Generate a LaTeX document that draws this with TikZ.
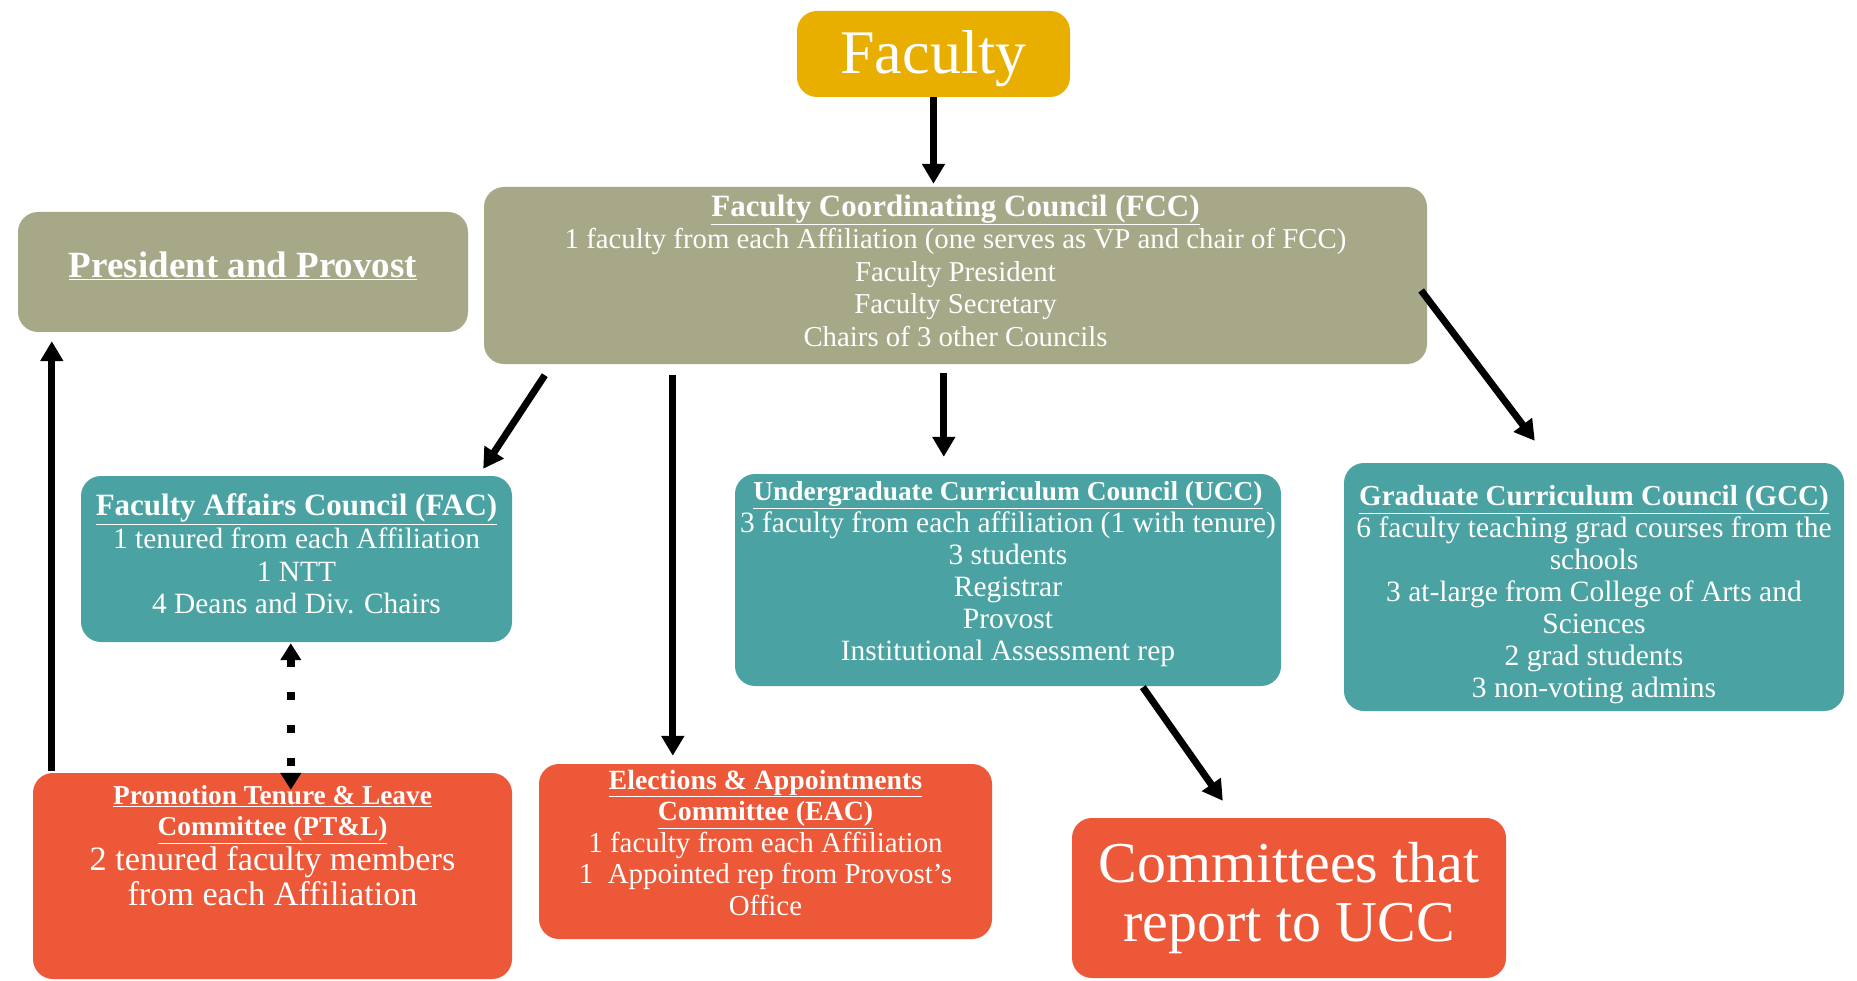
\documentclass[tikz,border=0pt]{standalone}
\usepackage{fontspec}
\setmainfont{Liberation Serif}
\usetikzlibrary{arrows.meta,calc}
\definecolor{cgold}{RGB}{232,174,0}
\definecolor{colive}{RGB}{166,168,136}
\definecolor{cteal}{RGB}{74,163,162}
\definecolor{cred}{RGB}{236,88,56}
\tikzset{
  box/.style={fill=#1, rounded corners=20pt, inner sep=0pt, draw=none},
  boxtext/.style={text=white, align=center, inner sep=0pt},
  arr/.style={line width=7pt, -{Triangle[length=20pt,width=22pt]}},
  dotarr/.style={line width=8pt, dash pattern=on 8pt off 25pt,
    {Triangle[length=17pt,width=20pt]}-{Triangle[length=17pt,width=20pt]}},
}
\newcommand{\ttl}[2]{{\bfseries\fontsize{#1}{#1}\selectfont\underline{#2}}}
\begin{document}
\begin{tikzpicture}[x=1pt,y=-1pt]
\useasboundingbox[fill=white] (0,0) rectangle (1857,981);

% boxes
\node[box=cgold, minimum width=273pt, minimum height=86pt] (fac0) at (933.5,54) {};
\node[box=colive, minimum width=943pt, minimum height=177pt] (fcc) at (955.5,275.5) {};
\node[box=colive, minimum width=450pt, minimum height=120pt] (pp) at (243,272) {};
\node[box=cteal, minimum width=431pt, minimum height=166pt] (fac) at (296.5,559) {};
\node[box=cteal, minimum width=546pt, minimum height=212pt] (ucc) at (1008,580) {};
\node[box=cteal, minimum width=500pt, minimum height=248pt] (gcc) at (1594,587) {};
\node[box=cred, minimum width=479pt, minimum height=206pt] (ptl) at (272.5,876) {};
\node[box=cred, minimum width=453pt, minimum height=175pt] (eac) at (765.5,851.5) {};
\node[box=cred, minimum width=434pt, minimum height=160pt] (com) at (1289,898) {};

% texts
\node[boxtext, font=\fontsize{62}{66}\selectfont] (fac0t) at ($(fac0)+(0,5)$) {Faculty};

\node[boxtext, font=\fontsize{28.8}{32.5}\selectfont] (fcct) at ($(fcc)+(0,-5)$)
  {\ttl{31}{Faculty Coordinating Council (FCC)}\\
   1 faculty from each Affiliation (one serves as VP and chair of FCC)\\
   Faculty President\\ Faculty Secretary\\ Chairs of 3 other Councils};

\node[boxtext, font=\fontsize{37}{40}\selectfont] (ppt) at ($(pp)+(0,-6)$)
  {\ttl{37}{President and Provost}};

\node[boxtext, font=\fontsize{29.4}{32.7}\selectfont] (fact) at ($(fac)+(0,-5)$)
  {\ttl{31}{Faculty Affairs Council (FAC)}\\
   1 tenured from each Affiliation\\ 1 NTT\\ 4 Deans and Div. Chairs};

\node[boxtext, font=\fontsize{29.5}{32}\selectfont] (ucct) at ($(ucc)+(0,-6)$)
  {\ttl{27.4}{Undergraduate Curriculum Council (UCC)}\\
   3 faculty from each affiliation (1 with tenure)\\
   3 students\\ Registrar\\ Provost\\ Institutional Assessment rep};

\node[boxtext, font=\fontsize{29.5}{32}\selectfont] (gcct) at ($(gcc)+(0,8)$)
  {\ttl{29}{Graduate Curriculum Council (GCC)}\\
   6 faculty teaching grad courses from the\\ schools\\
   3 at-large from College of Arts and\\ Sciences\\
   2 grad students\\ 3 non-voting admins};

\node[boxtext, font=\fontsize{34.2}{35}\selectfont] (ptlt) at (272.5,846)
  {\ttl{27.3}{Promotion Tenure \& Leave}\\[-4pt]
   \ttl{27.3}{Committee (PT\&L)}\\
   2 tenured faculty members\\ from each Affiliation};

\node[boxtext, font=\fontsize{28.9}{31.5}\selectfont] (eact) at ($(eac)+(0,-9)$)
  {\ttl{27.8}{Elections \& Appointments}\\
   \ttl{27.8}{Committee (EAC)}\\
   1 faculty from each Affiliation\\
   1\ \ Appointed rep from Provost's\\ Office};

\node[boxtext, font=\fontsize{57.9}{59}\selectfont] (comt) at (com)
  {Committees that\\ report to UCC};

% connectors
\draw[arr, shorten >=3pt] (fac0.south) -- (fac0.south |- fcc.north);
\draw[arr] ($(fcc.south west)+(61,11)$) -- ($(fac.north east)+(-29,-7)$);
\coordinate (e1) at ($(fcc.south west)+(189,11)$);
\draw[arr, shorten >=8pt] (e1) -- (e1 |- eac.north);
\coordinate (u1) at ($(fcc.south west)+(460,9)$);
\draw[arr, shorten >=17pt] (u1) -- (u1 |- ucc.north);
\draw[arr] ($(fcc.east)+(-6,15)$) -- ($(gcc.north west)+(191,-22)$);
\draw[arr] ($(ucc.south west)+(408,1)$) -- ($(com.north west)+(151,-17)$);
\coordinate (p1) at ($(ptl.north west)+(19,-2)$);
\draw[arr, shorten >=9pt] (p1) -- (p1 |- pp.south);
\coordinate (d1) at ($(fac.south west)+(210,1)$);
\draw[dotarr] (d1) -- ($(d1 |- ptl.north)+(0,17)$);
\end{tikzpicture}
\end{document}
